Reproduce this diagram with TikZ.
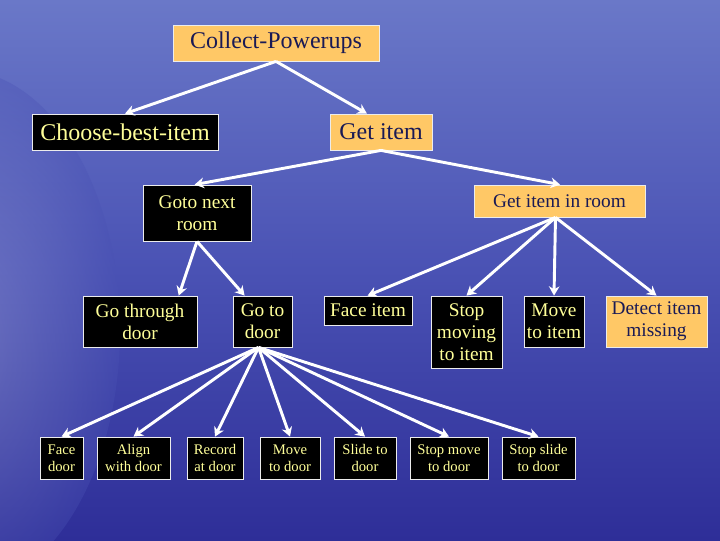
\documentclass[tikz,border=0pt]{standalone}
\usepackage{fontspec}
\setmainfont{Liberation Serif}
\usetikzlibrary{arrows.meta}
\definecolor{bgtop}{HTML}{6A78C8}
\definecolor{bgmid}{HTML}{4A52B4}
\definecolor{bgbot}{HTML}{2E2E98}
\definecolor{boxorange}{HTML}{FFC866}
\definecolor{textdark}{HTML}{1A1A55}
\definecolor{textyel}{HTML}{FFFF99}
\begin{document}
\begin{tikzpicture}[x=0.75pt,y=-0.75pt,
  base/.style={draw=white!85!gray,line width=0.6pt,inner sep=0pt,align=center,font=\fontsize{18}{20}\selectfont},
  orng/.style={base,fill=boxorange,text=textdark},
  blk/.style={base,fill=black,text=textyel},
  mid/.style={font=\fontsize{14.5}{16.5}\selectfont},
  sml/.style={font=\fontsize{11}{13}\selectfont},
  arr/.style={draw=white,line width=2.2pt,-{Stealth[length=7pt,width=8pt]}}]
\useasboundingbox (0,0) rectangle (720,540);
\shade[top color=bgtop,bottom color=bgbot,middle color=bgmid] (0,0) rectangle (720,540);
\shade[inner color=white!60!bgmid,outer color=bgmid,opacity=0.35] (-40,330) ellipse (160 and 260);
\newcommand{\bx}[7]{\node[#2,minimum width={(#5-#3)*0.75pt},minimum height={(#6-#4)*0.75pt}] (#1) at ({(#3+#5)/2},{(#4+#6)/2}) {#7};}
\bx{cp}{orng}{173}{25}{379}{61}{Collect-Powerups}
\bx{cb}{blk}{32}{114}{218}{150}{Choose-best-item}
\bx{gi}{orng}{330}{114}{432}{150}{Get item}
\bx{gn}{blk,mid}{143}{185}{251}{241}{Goto next\\room}
\bx{gr}{orng,mid}{474}{185}{645}{217}{Get item in room}
\bx{gt}{blk,mid}{83}{296}{197}{347}{Go through\\door}
\bx{gd}{blk,mid}{233}{296}{292}{347}{Go to\\door}
\bx{fi}{blk,mid}{324}{296}{412}{325}{Face item}
\bx{sm}{blk,mid}{431}{296}{502}{368}{Stop\\moving\\to item}
\bx{mi}{blk,mid}{524}{296}{584}{347}{Move\\to item}
\bx{dm}{orng,mid}{606}{296}{707}{347}{Detect item\\missing}
\bx{fd}{blk,sml}{40}{437}{83}{479}{Face\\door}
\bx{ad}{blk,sml}{97}{437}{170}{479}{Align\\with door}
\bx{rd}{blk,sml}{187}{437}{243}{479}{Record\\at door}
\bx{md}{blk,sml}{260}{437}{320}{479}{Move\\to door}
\bx{sd}{blk,sml}{334}{437}{396}{479}{Slide to\\door}
\bx{smd}{blk,sml}{410}{437}{488}{479}{Stop move\\to door}
\bx{ssd}{blk,sml}{502}{437}{575}{479}{Stop slide\\to door}
\draw[arr] (cp.south) -- (cb.north);
\draw[arr] (cp.south) -- ([xshift=28pt]gi.north west);
\draw[arr] (gi.south) -- ([xshift=39pt]gn.north west);
\draw[arr] (gi.south) -- ([xshift=-64pt]gr.north east);
\draw[arr] (gn.south) -- ([xshift=-14pt]gt.north east);
\draw[arr] (gn.south) -- ([xshift=9pt]gd.north west);
\draw[arr] ([xshift=-3pt]gr.south) -- ([xshift=33pt]fi.north west);
\draw[arr] ([xshift=-3pt]gr.south) -- (sm.north);
\draw[arr] ([xshift=-3pt]gr.south) -- (mi.north);
\draw[arr] ([xshift=-3pt]gr.south) -- (dm.north);
\foreach \t in {fd,ad,rd,md,sd,smd,ssd}{\draw[arr] ([xshift=-3pt]gd.south) -- (\t.north);}
\end{tikzpicture}
\end{document}
